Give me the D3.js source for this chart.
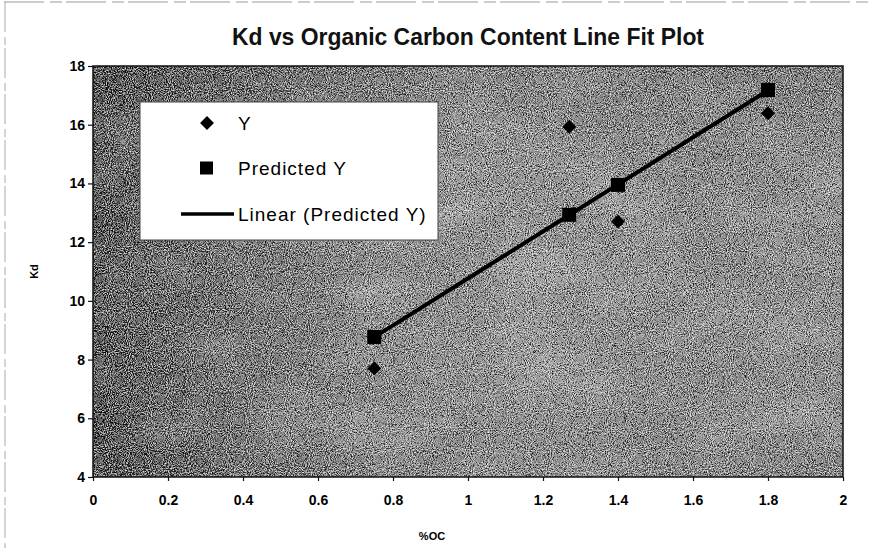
<!DOCTYPE html>
<html>
<head>
<meta charset="utf-8">
<script src="https://cdn.jsdelivr.net/npm/d3@7"></script>
<style>
  html, body { margin: 0; padding: 0; background: #fff; }
  svg { display: block; font-family: "Liberation Sans", Arial, sans-serif; }
</style>
</head>
<body>
<svg id="chart" width="874" height="550"></svg>
<script>
// ---- data ----
const ocValues = [0.75, 1.27, 1.4, 1.8];
const kdObserved = [7.7, 15.93, 12.7, 16.39];
const kdPredicted = [8.77, 12.93, 13.95, 17.18];
const xTickValues = [0, 0.2, 0.4, 0.6, 0.8, 1, 1.2, 1.4, 1.6, 1.8, 2];
const yTickValues = [4, 6, 8, 10, 12, 14, 16, 18];
const legendLabels = ["Y", "Predicted Y", "Linear (Predicted Y)"];
const titleText = "Kd vs Organic Carbon Content Line Fit Plot";
const xAxisTitle = "%OC";
const yAxisTitle = "Kd";

// ---- layout ----
const plot = { left: 93, right: 843, top: 66, bottom: 477 };
const pw = plot.right - plot.left, ph = plot.bottom - plot.top;

const svg = d3.select("#chart");
const defs = svg.append("defs");

// outer scan border
svg.append("line").attr("x1", 4).attr("x2", 872).attr("y1", 2).attr("y2", 2)
  .attr("stroke", "#999").attr("stroke-dasharray", "40 6 12 4").attr("stroke-width", 1);
svg.append("line").attr("x1", 5).attr("x2", 5).attr("y1", 2).attr("y2", 548)
  .attr("stroke", "#aaa").attr("stroke-dasharray", "30 5 8 3").attr("stroke-width", 1);

// background gradient for plot area
const grad = defs.append("linearGradient").attr("id", "bgGrad")
  .attr("x1", "0%").attr("x2", "100%").attr("y1", "0%").attr("y2", "0%");
[[0, "#141414"], [0.05, "#262626"], [0.18, "#454545"], [0.38, "#6c6c6c"],
 [0.58, "#7a7a7a"], [0.82, "#6c6c6c"], [1, "#727272"]].forEach(([o, c]) =>
  grad.append("stop").attr("offset", o).attr("stop-color", c));

const vgrad = defs.append("linearGradient").attr("id", "vGrad")
  .attr("x1", "0%").attr("x2", "0%").attr("y1", "0%").attr("y2", "100%");
[[0, "rgba(0,0,0,0.22)"], [0.25, "rgba(0,0,0,0)"], [0.8, "rgba(0,0,0,0)"], [1, "rgba(0,0,0,0.12)"]]
  .forEach(([o, c]) => vgrad.append("stop").attr("offset", o).attr("stop-color", c));

// speckle noise filter (deterministic texture)
const f = defs.append("filter").attr("id", "speckle")
  .attr("x", 0).attr("y", 0).attr("width", "100%").attr("height", "100%");
f.append("feTurbulence").attr("type", "fractalNoise").attr("baseFrequency", "0.95")
  .attr("numOctaves", 2).attr("seed", 3).attr("result", "noise");
f.append("feColorMatrix").attr("type", "matrix")
  .attr("values", "0 0 0 0 1  0 0 0 0 1  0 0 0 0 1  2.6 0 0 0 -1.05").attr("in", "noise").attr("result", "white");
f.append("feTurbulence").attr("type", "fractalNoise").attr("baseFrequency", "0.9")
  .attr("numOctaves", 2).attr("seed", 11).attr("result", "noise2");
f.append("feColorMatrix").attr("type", "matrix")
  .attr("values", "0 0 0 0 0  0 0 0 0 0  0 0 0 0 0  2.6 0 0 0 -0.95").attr("in", "noise2").attr("result", "black");
f.append("feMerge").call(m => { m.append("feMergeNode").attr("in", "black"); m.append("feMergeNode").attr("in", "white"); });

const f2 = defs.append("filter").attr("id", "blotch")
  .attr("x", 0).attr("y", 0).attr("width", "100%").attr("height", "100%");
f2.append("feTurbulence").attr("type", "fractalNoise").attr("baseFrequency", "0.012 0.02")
  .attr("numOctaves", 3).attr("seed", 5).attr("result", "n");
f2.append("feColorMatrix").attr("type", "matrix")
  .attr("values", "0 0 0 0 1  0 0 0 0 1  0 0 0 0 1  1.2 0 0 0 -0.5").attr("in", "n");

const bg = svg.append("g");
bg.append("rect").attr("x", plot.left).attr("y", plot.top).attr("width", pw).attr("height", ph)
  .attr("fill", "url(#bgGrad)");
bg.append("rect").attr("x", plot.left).attr("y", plot.top).attr("width", pw).attr("height", ph)
  .attr("fill", "#fff").attr("filter", "url(#blotch)").attr("opacity", 0.45);
bg.append("rect").attr("x", plot.left).attr("y", plot.top).attr("width", pw).attr("height", ph)
  .attr("fill", "url(#vGrad)");
bg.append("rect").attr("x", plot.left).attr("y", plot.top).attr("width", pw).attr("height", ph)
  .attr("fill", "#888").attr("filter", "url(#speckle)").attr("opacity", 0.85);

// ---- scales ----
const x = d3.scaleLinear().domain([0, 2]).range([plot.left, plot.right]);
const y = d3.scaleLinear().domain([4, 18]).range([plot.bottom, plot.top]);

// plot border
svg.append("rect").attr("x", plot.left).attr("y", plot.top).attr("width", pw).attr("height", ph)
  .attr("fill", "none").attr("stroke", "#111").attr("stroke-width", 1.5);

// ---- axes ----
const xAxis = d3.axisBottom(x).tickValues(xTickValues).tickSize(4).tickPadding(14)
  .tickFormat(d => d3.format("~g")(d));
const yAxis = d3.axisLeft(y).tickValues(yTickValues).tickSize(5).tickPadding(3)
  .tickFormat(d3.format("d"));

const gx = svg.append("g").attr("transform", `translate(0,${plot.bottom})`).call(xAxis);
const gy = svg.append("g").attr("transform", `translate(${plot.left},0)`).call(yAxis);
[gx, gy].forEach(g => {
  g.select(".domain").remove();
  g.selectAll(".tick line").attr("stroke", "#111").attr("stroke-width", 1.2);
  g.selectAll(".tick text").attr("fill", "#000").attr("font-size", 14).attr("font-weight", "bold")
    .attr("font-family", "Liberation Sans, Arial, sans-serif");
});

// axis titles
svg.append("text").attr("x", 432).attr("y", 540).attr("text-anchor", "middle")
  .attr("font-size", 11).attr("font-weight", "bold").attr("fill", "#000").text(xAxisTitle);
svg.append("text").attr("transform", `translate(38,${(plot.top + plot.bottom) / 2}) rotate(-90)`)
  .attr("text-anchor", "middle").attr("font-size", 11).attr("font-weight", "bold")
  .attr("fill", "#000").text(yAxisTitle);

// title
svg.append("text").attr("x", (plot.left + plot.right) / 2).attr("y", 45)
  .attr("text-anchor", "middle").attr("font-size", 23).attr("font-weight", "bold")
  .attr("fill", "#111").attr("textLength", 472).attr("lengthAdjust", "spacingAndGlyphs")
  .text(titleText);

// ---- trendline (least squares on predicted) ----
const mx = d3.mean(ocValues), my = d3.mean(kdPredicted);
const sxy = d3.sum(ocValues, (v, i) => (v - mx) * (kdPredicted[i] - my));
const sxx = d3.sum(ocValues, v => (v - mx) * (v - mx));
const slope = sxy / sxx, intercept = my - slope * mx;
const xExt = d3.extent(ocValues);
const line = d3.line().x(d => x(d)).y(d => y(intercept + slope * d));
svg.append("path").datum(xExt).attr("d", line).attr("fill", "none")
  .attr("stroke", "#000").attr("stroke-width", 4).attr("stroke-linecap", "round");

// ---- markers ----
const diamondPath = d3.symbol().type(d3.symbolSquare).size(96)();
svg.append("g").selectAll("path.obs").data(ocValues).join("path")
  .attr("class", "obs")
  .attr("d", diamondPath)
  .attr("transform", (d, i) => `translate(${x(d)},${y(kdObserved[i])}) rotate(45)`)
  .attr("fill", "#000");

svg.append("g").selectAll("rect.pred").data(ocValues).join("rect")
  .attr("class", "pred")
  .attr("x", d => x(d) - 7).attr("y", (d, i) => y(kdPredicted[i]) - 7)
  .attr("width", 14).attr("height", 14).attr("fill", "#000");

// ---- legend ----
const lg = svg.append("g");
lg.append("rect").attr("x", 140).attr("y", 102).attr("width", 298).attr("height", 138)
  .attr("fill", "#fff").attr("stroke", "#444").attr("stroke-width", 1);
const rows = [123, 168, 214];
lg.append("path").attr("d", diamondPath)
  .attr("transform", `translate(207,${rows[0]}) rotate(45)`).attr("fill", "#000");
lg.append("rect").attr("x", 200).attr("y", rows[1] - 6.5).attr("width", 13).attr("height", 13).attr("fill", "#000");
lg.append("line").attr("x1", 181).attr("x2", 234).attr("y1", rows[2]).attr("y2", rows[2])
  .attr("stroke", "#000").attr("stroke-width", 3.5);
legendLabels.forEach((t, i) => {
  lg.append("text").attr("x", 238).attr("y", rows[i]).attr("dy", "0.36em")
    .attr("font-size", 19).attr("letter-spacing", 1).attr("fill", "#000").text(t);
});
</script>
</body>
</html>
